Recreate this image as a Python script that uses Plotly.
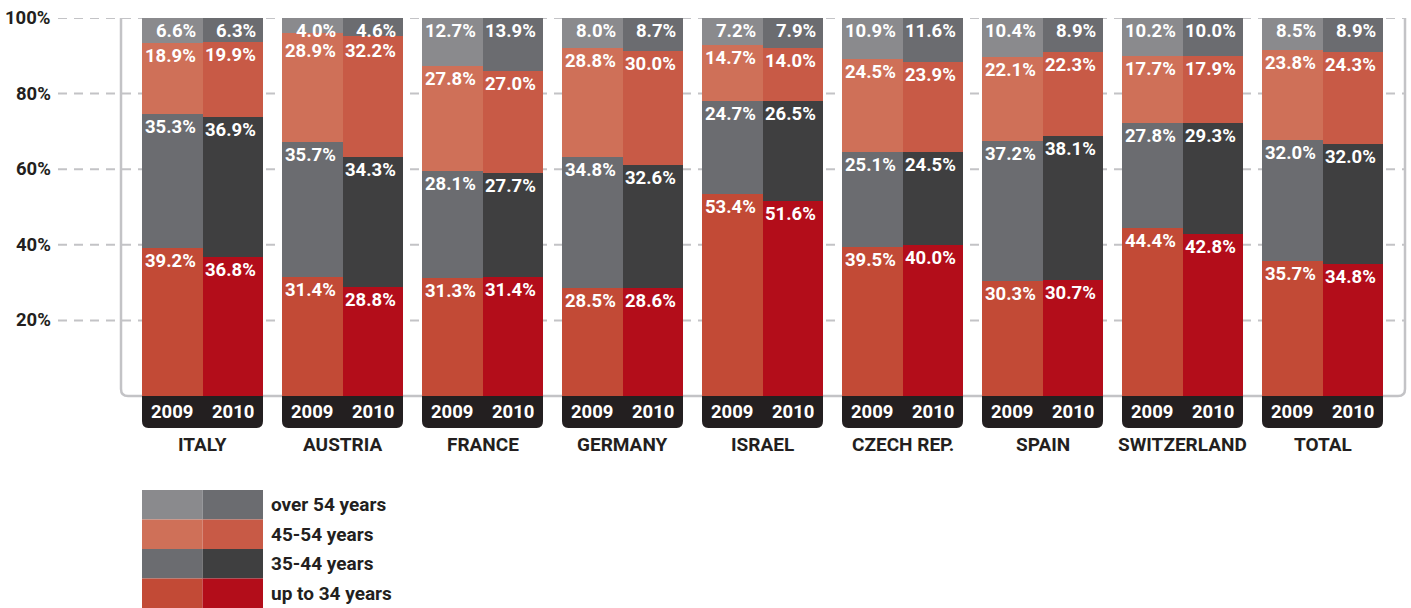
import plotly.graph_objects as go

countries = ["ITALY", "AUSTRIA", "FRANCE", "GERMANY", "ISRAEL", "CZECH REP.", "SPAIN", "SWITZERLAND", "TOTAL"]
years = ["2009", "2010"]
age_groups = ["up to 34 years", "35-44 years", "45-54 years", "over 54 years"]

up34_2009 = [39.2, 31.4, 31.3, 28.5, 53.4, 39.5, 30.3, 44.4, 35.7]
up34_2010 = [36.8, 28.8, 31.4, 28.6, 51.6, 40.0, 30.7, 42.8, 34.8]
a35_44_2009 = [35.3, 35.7, 28.1, 34.8, 24.7, 25.1, 37.2, 27.8, 32.0]
a35_44_2010 = [36.9, 34.3, 27.7, 32.6, 26.5, 24.5, 38.1, 29.3, 32.0]
a45_54_2009 = [18.9, 28.9, 27.8, 28.8, 14.7, 24.5, 22.1, 17.7, 23.8]
a45_54_2010 = [19.9, 32.2, 27.0, 30.0, 14.0, 23.9, 22.3, 17.9, 24.3]
over54_2009 = [6.6, 4.0, 12.7, 8.0, 7.2, 10.9, 10.4, 10.2, 8.5]
over54_2010 = [6.3, 4.6, 13.9, 8.7, 7.9, 11.6, 8.9, 10.0, 8.9]

y_ticks = [20, 40, 60, 80, 100]
y_tick_labels = ["20%", "40%", "60%", "80%", "100%"]

series = {
    "2009": [up34_2009, a35_44_2009, a45_54_2009, over54_2009],
    "2010": [up34_2010, a35_44_2010, a45_54_2010, over54_2010],
}
colors = {
    "2009": ["#c24a36", "#6b6c70", "#cf7058", "#8a8a8d"],
    "2010": ["#b30d1a", "#3f3f40", "#c85a46", "#6b6c70"],
}

FONT = "Roboto, Noto Sans, sans-serif"
DARK = "#231f20"
W = 60.5 / 140.0  # bar width in group units
L_PX, R_PX, T_PX, B_PX = 121, 1405, 18, 396
FIG_W, FIG_H = 1411, 608
PLOT_W, PLOT_H = R_PX - L_PX, B_PX - T_PX
MIN_GAP = 20 * 100.0 / PLOT_H  # minimum label spacing in data units

def px_x(x):
    return (x - L_PX) / PLOT_W

def px_y(y):
    return (B_PX - y) / PLOT_H

x_min = (L_PX - (142 + 60.5)) / 140.0
x_max = (R_PX - (142 + 60.5)) / 140.0

fig = go.Figure()
annotations = []
idx = list(range(len(countries)))

for yr in years:
    offset = -W / 2 if yr == "2009" else W / 2
    xs = [i + offset for i in idx]
    for gi, g in enumerate(age_groups):
        fig.add_trace(go.Bar(
            x=xs, y=series[yr][gi], width=W, name=f"{g} {yr}",
            marker=dict(color=colors[yr][gi], line=dict(width=0)),
            showlegend=False, hoverinfo="skip",
        ))
    # labels, placed from the top segment downwards
    for i in idx:
        tops = []
        c = 0.0
        for gi in range(len(age_groups)):
            c += series[yr][gi][i]
            tops.append(c)
        prev = None
        for gi in reversed(range(len(age_groups))):
            ly = min(tops[gi], 100.0)
            if prev is not None and prev - ly < MIN_GAP:
                ly = prev - MIN_GAP
            prev = ly
            annotations.append(dict(
                x=xs[i] + W / 2, y=ly, xref="x", yref="y",
                xanchor="right", yanchor="top", xshift=-5, yshift=0,
                text=f"{series[yr][gi][i]:.1f}%", showarrow=False,
                font=dict(family=FONT, size=18.5, color="white", weight="bold"),
            ))

shapes = []
# gridlines
for t in y_ticks:
    shapes.append(dict(type="line", xref="paper", yref="y", x0=px_x(58), x1=1, y0=t, y1=t,
                       line=dict(color="#c3c3c6", width=2, dash="9px,7px"), layer="below"))
# frame (open at top, rounded bottom corners)
rx, ry = 7 / PLOT_W, 7 / PLOT_H
frame = (f"M 0 1 L 0 {ry} Q 0 0 {rx} 0 L {1 - rx} 0 Q 1 0 1 {ry} L 1 1")
shapes.append(dict(type="path", xref="paper", yref="paper", path=frame,
                   line=dict(color="#c3c3c6", width=2.5), layer="below"))

# year tabs
tab_b = px_y(428)
tr_x, tr_y = 0.045, 7 / PLOT_H
for i in idx:
    x0, x1 = i - W, i + W
    p = (f"M {x0} 0 L {x0} {tab_b + tr_y} Q {x0} {tab_b} {x0 + tr_x} {tab_b} "
         f"L {x1 - tr_x} {tab_b} Q {x1} {tab_b} {x1} {tab_b + tr_y} L {x1} 0 Z")
    shapes.append(dict(type="path", xref="x", yref="paper", path=p,
                       fillcolor=DARK, line=dict(width=0)))
    for yr in years:
        offset = -W / 2 if yr == "2009" else W / 2
        annotations.append(dict(x=i + offset, y=px_y(412), xref="x", yref="paper",
                                text=yr, showarrow=False, xanchor="center", yanchor="middle",
                                font=dict(family=FONT, size=18.5, color="white", weight="bold")))
    annotations.append(dict(x=i, y=px_y(445), xref="x", yref="paper",
                            text=countries[i], showarrow=False, xanchor="center", yanchor="middle",
                            font=dict(family=FONT, size=19, color=DARK, weight="bold")))

# y tick labels
for t, lab in zip(y_ticks, y_tick_labels):
    annotations.append(dict(x=px_x(53), y=t, xref="paper", yref="y", text=lab,
                            showarrow=False, xanchor="right", yanchor="middle",
                            font=dict(family=FONT, size=18.5, color=DARK, weight="bold")))

# legend
row_h = 29.5
legend_top = 490
for r, gi in enumerate([3, 2, 1, 0]):
    y0 = legend_top + r * row_h
    y1 = y0 + row_h
    shapes.append(dict(type="rect", xref="paper", yref="paper",
                       x0=px_x(142), x1=px_x(202.5), y0=px_y(y1), y1=px_y(y0),
                       fillcolor=colors["2009"][gi], line=dict(width=0)))
    shapes.append(dict(type="rect", xref="paper", yref="paper",
                       x0=px_x(202.5), x1=px_x(263), y0=px_y(y1), y1=px_y(y0),
                       fillcolor=colors["2010"][gi], line=dict(width=0)))
    annotations.append(dict(x=px_x(269), y=px_y((y0 + y1) / 2), xref="paper", yref="paper",
                            text=age_groups[gi], showarrow=False, xanchor="left", yanchor="middle",
                            font=dict(family=FONT, size=19, color=DARK, weight="bold")))

fig.update_layout(
    width=FIG_W, height=FIG_H,
    margin=dict(l=L_PX, r=FIG_W - R_PX, t=T_PX, b=FIG_H - B_PX, pad=0),
    barmode="stack", bargap=0,
    plot_bgcolor="white", paper_bgcolor="white",
    xaxis=dict(range=[x_min, x_max], visible=False, fixedrange=True),
    yaxis=dict(range=[0, 100], visible=False, fixedrange=True),
    shapes=shapes, annotations=annotations,
    font=dict(family=FONT),
)

fig.write_html("out.html", config={"displayModeBar": False},
               post_script="document.body.style.margin='0px';")
